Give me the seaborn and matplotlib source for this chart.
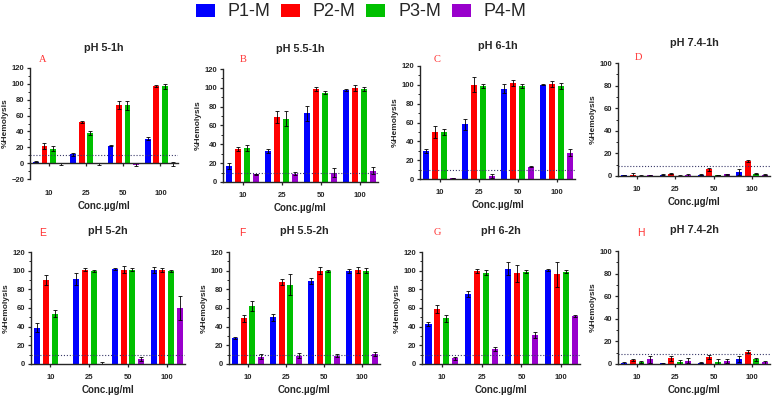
import numpy as np
import pandas as pd
import matplotlib
matplotlib.use('Agg')
import matplotlib.pyplot as plt
import seaborn as sns
from matplotlib.patches import Patch
from matplotlib.ticker import MultipleLocator

sns.set_style('ticks')
plt.rcParams['font.family'] = ['Liberation Sans', 'DejaVu Sans']
plt.rcParams['font.weight'] = 'bold'
plt.rcParams['axes.labelweight'] = 'bold'
plt.rcParams['axes.titleweight'] = 'bold'

# Data
concs = ['10', '25', '50', '100']
groups = ['P1-M', 'P2-M', 'P3-M', 'P4-M']
colors = ['#0000ff', '#ff0000', '#00c000', '#9900cc']

titles = ['pH 5-1h', 'pH 5.5-1h', 'pH 6-1h', 'pH 7.4-1h',
          'pH 5-2h', 'pH 5.5-2h', 'pH 6-2h', 'pH 7.4-2h']
letters = ['A', 'B', 'C', 'D', 'E', 'F', 'G', 'H']
thresholds = [10, 10, 10, 8.5, 10, 10, 10, 8.5]

# rows = P1..P4, columns = 10, 25, 50, 100 ug/ml
a_mean = [[2, 11, 22, 31], [22, 52, 73, 97], [18, 38, 73, 97], [-1, -1, -2, -1]]
a_err = [[1, 2, 1, 2], [4, 1, 5, 1], [3, 3, 6, 3], [1, 1, 2, 3]]
b_mean = [[17, 33, 73, 98], [35, 69, 99, 100], [36, 67, 95, 99], [8, 9, 10, 12]]
b_err = [[3, 2, 8, 1], [2, 6, 2, 3], [3, 8, 2, 2], [1, 2, 5, 4]]
c_mean = [[30, 58, 96, 100], [50, 100, 102, 101], [50, 99, 99, 99], [1, 3, 13, 28]]
c_err = [[2, 6, 5, 0.5], [6, 8, 3, 3], [3, 2, 2, 3], [0.5, 2, 0.5, 4]]
d_mean = [[0.5, 1, 1, 3.5], [1, 2, 6, 13.5], [0.3, 0.3, 1, 2], [0.5, 1, 1.5, 1]]
d_err = [[0.3, 0.5, 0.5, 2.5], [1.5, 0.5, 1.5, 0.7], [0.2, 0.2, 0.3, 0.5], [0.3, 1, 0.5, 0.5]]
e_mean = [[39, 91, 102, 101], [90, 101, 101, 101], [54, 100, 101, 100], [0, 0, 5, 60]]
e_err = [[5, 6, 1, 3], [5, 1.5, 4, 2], [4, 1, 1.5, 1], [0, 2, 2, 13]]
f_mean = [[28, 50, 89, 100], [49, 88, 100, 101], [62, 85, 100, 100], [8, 9, 9, 11]]
f_err = [[1, 4, 3, 2], [4, 3, 4, 3], [5, 11, 1, 3], [3, 3, 2, 2]]
g_mean = [[43, 75, 102, 101], [59, 100, 97, 96], [49, 98, 99, 99], [6, 16, 31, 51]]
g_err = [[2, 3, 7, 1], [4, 2, 9, 13], [4, 3, 1.5, 2], [2, 2, 3, 1]]
h_mean = [[0.5, 0.5, 1, 4.5], [3.5, 5, 6, 11], [2, 1.5, 2, 4], [4, 3, 2.5, 1.5]]
h_err = [[1, 0.3, 0.5, 3], [0.5, 2, 2, 1], [1, 2, 2, 1.5], [3, 2, 2, 1.5]]

means = [a_mean, b_mean, c_mean, d_mean, e_mean, f_mean, g_mean, h_mean]
errs = [a_err, b_err, c_err, d_err, e_err, f_err, g_err, h_err]
ylims = [(-20, 120), (0, 120), (0, 120), (0, 100),
         (0, 120), (0, 120), (0, 120), (0, 100)]

# axes boxes in pixels: left, right, top, bottom
W, H = 772, 396
boxes = [(30, 178, 68, 179), (223, 378, 69, 182), (420, 575, 66, 179), (618, 770, 63, 176),
         (31, 185, 252, 364), (229, 380, 252, 364), (422, 580, 252, 364), (618, 770, 251, 364)]
letter_pos = [(43, 59), (243, 59), (437, 59), (638, 58),
              (43, 233), (242, 233), (437, 233), (641, 233)]

fig = plt.figure(figsize=(W / 100, H / 100), dpi=100)

for k in range(8):
    l, r, t, b = boxes[k]
    ax = fig.add_axes([l / W, 1 - b / H, (r - l) / W, (b - t) / H])
    df = pd.DataFrame({
        'conc': [c for g in groups for c in concs],
        'group': [g for g in groups for c in concs],
        'value': np.array(means[k]).ravel(),
    })
    sns.barplot(data=df, x='conc', y='value', hue='group', order=concs, hue_order=groups,
                palette=colors, width=0.9, gap=0.32, errorbar=None, legend=False,
                saturation=1, linewidth=0, ax=ax)

    # error bars placed at the bars seaborn drew
    bar_conts = list(ax.containers)
    for gi, cont in enumerate(bar_conts):
        for bar in cont.patches:
            xc = bar.get_x() + bar.get_width() / 2
            ci = int(round(xc))
            ax.errorbar(xc, means[k][gi][ci], yerr=errs[k][gi][ci], fmt='none',
                        ecolor='black', elinewidth=0.6, capsize=1.2, capthick=0.6)

    ax.axhline(thresholds[k], color='#3a3a6a', linestyle=':', linewidth=0.8)

    ax.set_xlim(-0.5, 3.47)
    ax.set_ylim(*ylims[k])
    ax.yaxis.set_major_locator(MultipleLocator(20))
    ax.yaxis.set_minor_locator(MultipleLocator(10))
    sns.despine(ax=ax)
    for s in ['left', 'bottom']:
        ax.spines[s].set_linewidth(1.0)
    ax.tick_params(axis='both', labelsize=5.5, width=0.9, length=2.5, pad=1.5)
    ax.tick_params(axis='y', which='minor', width=0.7, length=1.5)
    ax.tick_params(axis='x', pad=4.5)
    if ylims[k][0] < 0:
        ax.spines['bottom'].set_position(('data', 0))
        ax.tick_params(axis='x', pad=17)

    ax.set_title(titles[k], fontsize=7.8, pad=12 if k < 4 else 13)
    ax.set_xlabel('Conc.µg/ml', fontsize=7, labelpad=3)
    ax.set_ylabel('%Hemolysis', fontsize=6, labelpad=2)

    lx, ly = letter_pos[k]
    fam = ['Liberation Serif'] if letters[k] in 'ABCDG' else ['Liberation Sans']
    fig.text(lx / W, 1 - ly / H, letters[k], color='#ff3030', fontsize=7.5,
             fontweight='normal', family=fam, ha='center', va='center')

handles = [Patch(facecolor=c, edgecolor='none', label=g) for g, c in zip(groups, colors)]
fig.legend(handles=handles, loc='center', bbox_to_anchor=(361 / W, 1 - 12 / H), ncol=4,
           frameon=False, prop={'size': 13, 'weight': 'normal'}, handlelength=1.05,
           handleheight=0.7, handletextpad=0.7, columnspacing=0.6, borderpad=0)

fig.savefig('out.png', dpi=100)
